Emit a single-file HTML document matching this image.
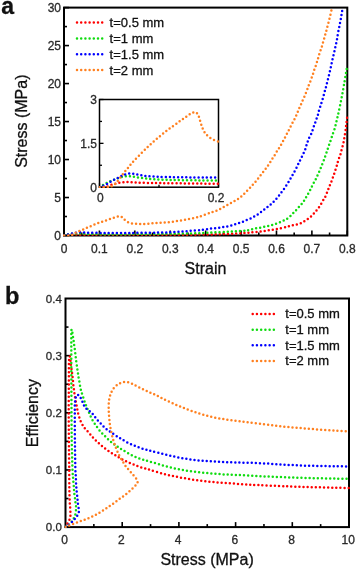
<!DOCTYPE html>
<html><head><meta charset="utf-8"><title>Stress-strain and efficiency</title>
<style>
html,body{margin:0;padding:0;background:#fff;}
body{width:357px;height:570px;overflow:hidden;}
svg{display:block;will-change:transform;}
#w{width:357px;height:570px;}
text{font-family:"Liberation Sans",sans-serif;fill:#111;stroke:#111;stroke-width:0.3px;}
.tk{fill:#2a2a2a;stroke:#2a2a2a;}
</style></head>
<body>
<div id="w">
<svg width="357" height="570" viewBox="0 0 357 570">
<g>
<rect width="357" height="570" fill="#fff"/>
<defs><clipPath id="ca"><rect x="63.00" y="6.60" width="285.30" height="229.90"/></clipPath><clipPath id="ci"><rect x="98.75" y="98.75" width="120.50" height="89.20"/></clipPath><clipPath id="cb"><rect x="64.50" y="297.50" width="285.50" height="230.60"/></clipPath></defs>
<line x1="64.00" y1="235.50" x2="69.00" y2="235.50" stroke="#000" stroke-width="1.60"/>
<line x1="64.00" y1="197.52" x2="69.00" y2="197.52" stroke="#000" stroke-width="1.60"/>
<line x1="64.00" y1="159.53" x2="69.00" y2="159.53" stroke="#000" stroke-width="1.60"/>
<line x1="64.00" y1="121.55" x2="69.00" y2="121.55" stroke="#000" stroke-width="1.60"/>
<line x1="64.00" y1="83.57" x2="69.00" y2="83.57" stroke="#000" stroke-width="1.60"/>
<line x1="64.00" y1="45.58" x2="69.00" y2="45.58" stroke="#000" stroke-width="1.60"/>
<line x1="64.00" y1="7.60" x2="69.00" y2="7.60" stroke="#000" stroke-width="1.60"/>
<line x1="64.00" y1="216.51" x2="67.00" y2="216.51" stroke="#000" stroke-width="1.60"/>
<line x1="64.00" y1="178.53" x2="67.00" y2="178.53" stroke="#000" stroke-width="1.60"/>
<line x1="64.00" y1="140.54" x2="67.00" y2="140.54" stroke="#000" stroke-width="1.60"/>
<line x1="64.00" y1="102.56" x2="67.00" y2="102.56" stroke="#000" stroke-width="1.60"/>
<line x1="64.00" y1="64.57" x2="67.00" y2="64.57" stroke="#000" stroke-width="1.60"/>
<line x1="64.00" y1="26.59" x2="67.00" y2="26.59" stroke="#000" stroke-width="1.60"/>
<line x1="64.00" y1="235.50" x2="64.00" y2="230.50" stroke="#000" stroke-width="1.60"/>
<line x1="99.41" y1="235.50" x2="99.41" y2="230.50" stroke="#000" stroke-width="1.60"/>
<line x1="134.82" y1="235.50" x2="134.82" y2="230.50" stroke="#000" stroke-width="1.60"/>
<line x1="170.24" y1="235.50" x2="170.24" y2="230.50" stroke="#000" stroke-width="1.60"/>
<line x1="205.65" y1="235.50" x2="205.65" y2="230.50" stroke="#000" stroke-width="1.60"/>
<line x1="241.06" y1="235.50" x2="241.06" y2="230.50" stroke="#000" stroke-width="1.60"/>
<line x1="276.48" y1="235.50" x2="276.48" y2="230.50" stroke="#000" stroke-width="1.60"/>
<line x1="311.89" y1="235.50" x2="311.89" y2="230.50" stroke="#000" stroke-width="1.60"/>
<line x1="347.30" y1="235.50" x2="347.30" y2="230.50" stroke="#000" stroke-width="1.60"/>
<line x1="81.71" y1="235.50" x2="81.71" y2="232.50" stroke="#000" stroke-width="1.60"/>
<line x1="117.12" y1="235.50" x2="117.12" y2="232.50" stroke="#000" stroke-width="1.60"/>
<line x1="152.53" y1="235.50" x2="152.53" y2="232.50" stroke="#000" stroke-width="1.60"/>
<line x1="187.94" y1="235.50" x2="187.94" y2="232.50" stroke="#000" stroke-width="1.60"/>
<line x1="223.36" y1="235.50" x2="223.36" y2="232.50" stroke="#000" stroke-width="1.60"/>
<line x1="258.77" y1="235.50" x2="258.77" y2="232.50" stroke="#000" stroke-width="1.60"/>
<line x1="294.18" y1="235.50" x2="294.18" y2="232.50" stroke="#000" stroke-width="1.60"/>
<line x1="329.59" y1="235.50" x2="329.59" y2="232.50" stroke="#000" stroke-width="1.60"/>
<rect x="64.00" y="7.60" width="283.30" height="227.90" fill="none" stroke="#000" stroke-width="2"/>
<path d="M64.00,235.50 C65.00,235.40 68.00,235.05 70.00,234.90 C72.00,234.75 74.00,234.63 76.00,234.60 C78.00,234.57 78.00,234.67 82.00,234.70 C86.00,234.73 88.67,234.78 100.00,234.80 C111.33,234.82 133.33,234.83 150.00,234.80 C166.67,234.77 187.50,234.73 200.00,234.60 C212.50,234.47 217.38,234.27 225.00,234.00 C232.62,233.73 240.92,233.30 245.70,233.00 C250.48,232.70 251.02,232.48 253.70,232.20 C256.38,231.92 259.10,231.65 261.80,231.30 C264.50,230.95 267.15,230.53 269.90,230.10 C272.65,229.67 275.50,229.23 278.30,228.70 C281.10,228.17 284.65,227.37 286.70,226.90 C288.75,226.43 289.32,226.23 290.60,225.90 C291.88,225.57 293.10,225.22 294.40,224.90 C295.70,224.58 297.08,224.40 298.40,224.00 C299.72,223.60 301.08,223.12 302.30,222.50 C303.52,221.88 304.53,221.07 305.70,220.30 C306.87,219.53 308.18,218.77 309.30,217.90 C310.42,217.03 311.42,216.10 312.40,215.10 C313.38,214.10 314.27,213.00 315.20,211.90 C316.13,210.80 317.12,209.67 318.00,208.50 C318.88,207.33 319.73,206.13 320.50,204.90 C321.27,203.67 321.90,202.27 322.60,201.10 C323.30,199.93 324.07,199.07 324.70,197.90 C325.33,196.73 325.85,195.42 326.40,194.10 C326.95,192.78 327.47,191.38 328.00,190.00 C328.53,188.62 329.08,187.08 329.60,185.80 C330.12,184.52 330.62,183.52 331.10,182.30 C331.58,181.08 332.03,179.78 332.50,178.50 C332.97,177.22 333.43,175.95 333.90,174.60 C334.37,173.25 334.83,171.82 335.30,170.40 C335.77,168.98 336.28,167.52 336.70,166.10 C337.12,164.68 337.38,163.30 337.80,161.90 C338.22,160.50 338.73,159.05 339.20,157.70 C339.67,156.35 340.20,155.13 340.60,153.80 C341.00,152.47 341.25,151.03 341.60,149.70 C341.95,148.37 342.35,147.15 342.70,145.80 C343.05,144.45 343.42,143.00 343.70,141.60 C343.98,140.20 344.17,138.80 344.40,137.40 C344.63,136.00 344.87,134.62 345.10,133.20 C345.33,131.78 345.62,130.32 345.80,128.90 C345.98,127.48 346.03,126.10 346.20,124.70 C346.37,123.30 346.62,121.90 346.80,120.50 C346.98,119.10 347.22,117.00 347.30,116.30" fill="none" stroke="#ff0000" stroke-width="2.50" stroke-linecap="round" stroke-dasharray="0 4.10" clip-path="url(#ca)"/>
<path d="M64.00,235.50 C64.67,235.33 66.67,234.80 68.00,234.50 C69.33,234.20 70.67,233.88 72.00,233.70 C73.33,233.52 74.67,233.42 76.00,233.40 C77.33,233.38 77.67,233.50 80.00,233.60 C82.33,233.70 85.00,233.90 90.00,234.00 C95.00,234.10 100.00,234.20 110.00,234.20 C120.00,234.20 138.33,234.10 150.00,234.00 C161.67,233.90 171.38,233.75 180.00,233.60 C188.62,233.45 195.92,233.30 201.70,233.10 C207.48,232.90 210.43,232.62 214.70,232.40 C218.97,232.18 223.80,231.98 227.30,231.80 C230.80,231.62 232.63,231.48 235.70,231.30 C238.77,231.12 243.45,230.93 245.70,230.70 C247.95,230.47 247.97,230.18 249.20,229.90 C250.43,229.62 251.82,229.28 253.10,229.00 C254.38,228.72 255.57,228.45 256.90,228.20 C258.23,227.95 259.70,227.78 261.10,227.50 C262.50,227.22 263.97,226.78 265.30,226.50 C266.63,226.22 267.82,226.10 269.10,225.80 C270.38,225.50 271.70,225.10 273.00,224.70 C274.30,224.30 275.58,223.87 276.90,223.40 C278.22,222.93 279.63,222.43 280.90,221.90 C282.17,221.37 283.37,220.80 284.50,220.20 C285.63,219.60 286.60,219.08 287.70,218.30 C288.80,217.52 290.03,216.52 291.10,215.50 C292.17,214.48 293.12,213.25 294.10,212.20 C295.08,211.15 296.00,210.28 297.00,209.20 C298.00,208.12 299.12,206.82 300.10,205.70 C301.08,204.58 302.07,203.62 302.90,202.50 C303.73,201.38 304.40,200.17 305.10,199.00 C305.80,197.83 306.40,196.72 307.10,195.50 C307.80,194.28 308.62,192.95 309.30,191.70 C309.98,190.45 310.62,189.22 311.20,188.00 C311.78,186.78 312.18,185.58 312.80,184.40 C313.42,183.22 314.25,182.12 314.90,180.90 C315.55,179.68 316.12,178.35 316.70,177.10 C317.28,175.85 317.83,174.65 318.40,173.40 C318.97,172.15 319.58,170.85 320.10,169.60 C320.62,168.35 320.97,167.23 321.50,165.90 C322.03,164.57 322.77,162.97 323.30,161.60 C323.83,160.23 324.23,159.00 324.70,157.70 C325.17,156.40 325.63,155.15 326.10,153.80 C326.57,152.45 327.03,151.00 327.50,149.60 C327.97,148.20 328.42,146.80 328.90,145.40 C329.38,144.00 329.92,142.62 330.40,141.20 C330.88,139.78 331.33,138.32 331.80,136.90 C332.27,135.48 332.73,134.03 333.20,132.70 C333.67,131.37 334.18,130.23 334.60,128.90 C335.02,127.57 335.35,126.10 335.70,124.70 C336.05,123.30 336.38,121.83 336.70,120.50 C337.02,119.17 337.30,117.98 337.60,116.70 C337.90,115.42 337.85,115.85 338.50,112.80 C339.15,109.75 340.53,103.37 341.50,98.40 C342.47,93.43 343.45,87.82 344.30,83.00 C345.15,78.18 346.10,72.17 346.60,69.50 C347.10,66.83 347.18,67.42 347.30,67.00" fill="none" stroke="#10dc10" stroke-width="2.50" stroke-linecap="round" stroke-dasharray="0 4.10" clip-path="url(#ca)"/>
<path d="M64.00,235.50 C64.67,235.35 66.67,234.92 68.00,234.60 C69.33,234.28 70.67,233.92 72.00,233.60 C73.33,233.28 74.67,232.92 76.00,232.70 C77.33,232.48 78.67,232.35 80.00,232.30 C81.33,232.25 82.33,232.33 84.00,232.40 C85.67,232.47 87.33,232.62 90.00,232.70 C92.67,232.78 96.67,232.85 100.00,232.90 C103.33,232.95 105.00,233.00 110.00,233.00 C115.00,233.00 123.10,232.95 130.00,232.90 C136.90,232.85 145.73,232.77 151.40,232.70 C157.07,232.63 160.38,232.62 164.00,232.50 C167.62,232.38 170.18,232.15 173.10,232.00 C176.02,231.85 178.70,231.78 181.50,231.60 C184.30,231.42 187.10,231.12 189.90,230.90 C192.70,230.68 196.33,230.45 198.30,230.30 C200.27,230.15 200.37,230.17 201.70,230.00 C203.03,229.83 204.83,229.53 206.30,229.30 C207.77,229.07 209.10,228.78 210.50,228.60 C211.90,228.42 213.30,228.33 214.70,228.20 C216.10,228.07 217.50,227.98 218.90,227.80 C220.30,227.62 221.70,227.33 223.10,227.10 C224.50,226.87 225.90,226.68 227.30,226.40 C228.70,226.12 230.22,225.75 231.50,225.40 C232.78,225.05 233.77,224.70 235.00,224.30 C236.23,223.90 237.67,223.40 238.90,223.00 C240.13,222.60 241.27,222.32 242.40,221.90 C243.53,221.48 244.45,221.02 245.70,220.50 C246.95,219.98 248.62,219.38 249.90,218.80 C251.18,218.22 252.23,217.63 253.40,217.00 C254.57,216.37 255.78,215.70 256.90,215.00 C258.02,214.30 259.05,213.57 260.10,212.80 C261.15,212.03 262.17,211.20 263.20,210.40 C264.23,209.60 265.25,208.82 266.30,208.00 C267.35,207.18 268.45,206.38 269.50,205.50 C270.55,204.62 271.60,203.68 272.60,202.70 C273.60,201.72 274.57,200.60 275.50,199.60 C276.43,198.60 277.30,197.82 278.20,196.70 C279.10,195.58 280.03,194.05 280.90,192.90 C281.77,191.75 282.60,190.88 283.40,189.80 C284.20,188.72 284.95,187.52 285.70,186.40 C286.45,185.28 287.20,184.22 287.90,183.10 C288.60,181.98 289.22,180.88 289.90,179.70 C290.58,178.52 291.32,177.22 292.00,176.00 C292.68,174.78 293.33,173.60 294.00,172.40 C294.67,171.20 295.37,170.03 296.00,168.80 C296.63,167.57 297.22,166.22 297.80,165.00 C298.38,163.78 298.92,162.68 299.50,161.50 C300.08,160.32 300.70,159.12 301.30,157.90 C301.90,156.68 302.50,155.45 303.10,154.20 C303.70,152.95 304.40,151.70 304.90,150.40 C305.40,149.10 305.68,147.72 306.10,146.40 C306.52,145.08 306.95,143.82 307.40,142.50 C307.85,141.18 308.18,139.90 308.80,138.50 C309.42,137.10 310.48,135.45 311.10,134.10 C311.72,132.75 312.03,131.73 312.50,130.40 C312.97,129.07 313.43,127.43 313.90,126.10 C314.37,124.77 314.83,123.68 315.30,122.40 C315.77,121.12 316.23,119.77 316.70,118.40 C317.17,117.03 317.70,115.60 318.10,114.20 C318.50,112.80 318.70,111.38 319.10,110.00 C319.50,108.62 320.07,107.23 320.50,105.90 C320.93,104.57 321.28,103.33 321.70,102.00 C322.12,100.67 322.60,99.28 323.00,97.90 C323.40,96.52 323.73,95.07 324.10,93.70 C324.47,92.33 324.83,91.02 325.20,89.70 C325.57,88.38 325.95,87.13 326.30,85.80 C326.65,84.47 326.95,83.10 327.30,81.70 C327.65,80.30 328.05,78.78 328.40,77.40 C328.75,76.02 329.08,74.73 329.40,73.40 C329.72,72.07 330.00,70.72 330.30,69.40 C330.60,68.08 330.92,66.82 331.20,65.50 C331.48,64.18 331.70,62.88 332.00,61.50 C332.30,60.12 332.67,58.60 333.00,57.20 C333.33,55.80 333.68,54.47 334.00,53.10 C334.32,51.73 334.60,50.37 334.90,49.00 C335.20,47.63 335.50,46.23 335.80,44.90 C336.10,43.57 336.43,42.35 336.70,41.00 C336.97,39.65 337.17,38.22 337.40,36.80 C337.63,35.38 337.83,33.90 338.10,32.50 C338.37,31.10 338.72,29.78 339.00,28.40 C339.28,27.02 339.53,25.58 339.80,24.20 C340.07,22.82 340.35,21.47 340.60,20.10 C340.85,18.73 341.07,17.37 341.30,16.00 C341.53,14.63 341.77,13.25 342.00,11.90 C342.23,10.55 342.58,8.57 342.70,7.90" fill="none" stroke="#0000ff" stroke-width="2.50" stroke-linecap="round" stroke-dasharray="0 4.10" clip-path="url(#ca)"/>
<path d="M64.00,235.50 C65.00,235.47 68.50,235.47 70.00,235.30 C71.50,235.13 72.00,234.95 73.00,234.50 C74.00,234.05 75.00,233.15 76.00,232.60 C77.00,232.05 77.83,231.72 79.00,231.20 C80.17,230.68 81.72,230.07 83.00,229.50 C84.28,228.93 85.45,228.35 86.70,227.80 C87.95,227.25 89.20,226.75 90.50,226.20 C91.80,225.65 93.18,225.03 94.50,224.50 C95.82,223.97 97.07,223.48 98.40,223.00 C99.73,222.52 101.13,222.07 102.50,221.60 C103.87,221.13 105.22,220.67 106.60,220.20 C107.98,219.73 109.45,219.25 110.80,218.80 C112.15,218.35 113.42,217.90 114.70,217.50 C115.98,217.10 117.37,216.48 118.50,216.40 C119.63,216.32 120.65,216.63 121.50,217.00 C122.35,217.37 122.93,218.00 123.60,218.60 C124.27,219.20 124.63,219.93 125.50,220.60 C126.37,221.27 127.60,222.12 128.80,222.60 C130.00,223.08 131.35,223.28 132.70,223.50 C134.05,223.72 135.50,223.82 136.90,223.90 C138.30,223.98 139.70,223.98 141.10,224.00 C142.50,224.02 143.82,224.07 145.30,224.00 C146.78,223.93 148.52,223.73 150.00,223.60 C151.48,223.47 152.80,223.32 154.20,223.20 C155.60,223.08 157.00,223.00 158.40,222.90 C159.80,222.80 161.20,222.68 162.60,222.60 C164.00,222.52 165.40,222.52 166.80,222.40 C168.20,222.28 169.60,222.07 171.00,221.90 C172.40,221.73 173.80,221.60 175.20,221.40 C176.60,221.20 178.00,220.92 179.40,220.70 C180.80,220.48 182.25,220.33 183.60,220.10 C184.95,219.87 186.15,219.55 187.50,219.30 C188.85,219.05 190.30,218.88 191.70,218.60 C193.10,218.32 194.63,217.92 195.90,217.60 C197.17,217.28 198.20,217.03 199.30,216.70 C200.40,216.37 201.10,216.10 202.50,215.60 C203.90,215.10 206.25,214.22 207.70,213.70 C209.15,213.18 210.00,212.92 211.20,212.50 C212.40,212.08 213.68,211.65 214.90,211.20 C216.12,210.75 217.37,210.32 218.50,209.80 C219.63,209.28 220.58,208.70 221.70,208.10 C222.82,207.50 224.03,206.83 225.20,206.20 C226.37,205.57 227.53,204.95 228.70,204.30 C229.87,203.65 231.03,202.95 232.20,202.30 C233.37,201.65 234.58,201.07 235.70,200.40 C236.82,199.73 237.88,199.03 238.90,198.30 C239.92,197.57 240.83,196.85 241.80,196.00 C242.77,195.15 243.70,194.20 244.70,193.20 C245.70,192.20 246.77,191.05 247.80,190.00 C248.83,188.95 249.92,187.95 250.90,186.90 C251.88,185.85 252.77,184.75 253.70,183.70 C254.63,182.65 255.62,181.67 256.50,180.60 C257.38,179.53 258.17,178.37 259.00,177.30 C259.83,176.23 260.65,175.28 261.50,174.20 C262.35,173.12 263.25,171.90 264.10,170.80 C264.95,169.70 265.80,168.70 266.60,167.60 C267.40,166.50 268.17,165.30 268.90,164.20 C269.63,163.10 270.32,162.08 271.00,161.00 C271.68,159.92 272.32,158.78 273.00,157.70 C273.68,156.62 274.43,155.58 275.10,154.50 C275.77,153.42 276.32,152.32 277.00,151.20 C277.68,150.08 278.47,148.98 279.20,147.80 C279.93,146.62 280.68,145.35 281.40,144.10 C282.12,142.85 282.80,141.60 283.50,140.30 C284.20,139.00 284.90,137.65 285.60,136.30 C286.30,134.95 287.00,133.55 287.70,132.20 C288.40,130.85 289.12,129.53 289.80,128.20 C290.48,126.87 291.10,125.55 291.80,124.20 C292.50,122.85 293.33,121.38 294.00,120.10 C294.67,118.82 295.23,117.72 295.80,116.50 C296.37,115.28 296.87,114.10 297.40,112.80 C297.93,111.50 298.43,110.03 299.00,108.70 C299.57,107.37 300.23,106.08 300.80,104.80 C301.37,103.52 301.85,102.25 302.40,101.00 C302.95,99.75 303.55,98.57 304.10,97.30 C304.65,96.03 305.17,94.72 305.70,93.40 C306.23,92.08 306.80,90.73 307.30,89.40 C307.80,88.07 308.20,86.72 308.70,85.40 C309.20,84.08 309.78,82.83 310.30,81.50 C310.82,80.17 311.32,78.75 311.80,77.40 C312.28,76.05 312.77,74.73 313.20,73.40 C313.63,72.07 313.95,70.73 314.40,69.40 C314.85,68.07 315.45,66.72 315.90,65.40 C316.35,64.08 316.70,62.82 317.10,61.50 C317.50,60.18 317.90,58.87 318.30,57.50 C318.70,56.13 319.07,54.65 319.50,53.30 C319.93,51.95 320.47,50.65 320.90,49.40 C321.33,48.15 321.72,47.08 322.10,45.80 C322.48,44.52 322.82,43.03 323.20,41.70 C323.58,40.37 324.02,39.13 324.40,37.80 C324.78,36.47 325.13,35.03 325.50,33.70 C325.87,32.37 326.25,31.12 326.60,29.80 C326.95,28.48 327.25,27.13 327.60,25.80 C327.95,24.47 328.35,23.13 328.70,21.80 C329.05,20.47 329.37,19.15 329.70,17.80 C330.03,16.45 330.38,15.07 330.70,13.70 C331.02,12.33 331.38,10.62 331.60,9.60 C331.82,8.58 331.93,7.93 332.00,7.60" fill="none" stroke="#ff8020" stroke-width="2.50" stroke-linecap="round" stroke-dasharray="0 4.10" clip-path="url(#ca)"/>
<text x="61.00" y="239.80" font-size="12.00" text-anchor="end" font-weight="normal" class="tk">0</text>
<text x="61.00" y="201.82" font-size="12.00" text-anchor="end" font-weight="normal" class="tk">5</text>
<text x="61.00" y="163.83" font-size="12.00" text-anchor="end" font-weight="normal" class="tk">10</text>
<text x="61.00" y="125.85" font-size="12.00" text-anchor="end" font-weight="normal" class="tk">15</text>
<text x="61.00" y="87.87" font-size="12.00" text-anchor="end" font-weight="normal" class="tk">20</text>
<text x="61.00" y="49.88" font-size="12.00" text-anchor="end" font-weight="normal" class="tk">25</text>
<text x="61.00" y="11.90" font-size="12.00" text-anchor="end" font-weight="normal" class="tk">30</text>
<text x="64.00" y="252.60" font-size="12.00" text-anchor="middle" font-weight="normal" class="tk">0</text>
<text x="99.41" y="252.60" font-size="12.00" text-anchor="middle" font-weight="normal" class="tk">0.1</text>
<text x="134.82" y="252.60" font-size="12.00" text-anchor="middle" font-weight="normal" class="tk">0.2</text>
<text x="170.24" y="252.60" font-size="12.00" text-anchor="middle" font-weight="normal" class="tk">0.3</text>
<text x="205.65" y="252.60" font-size="12.00" text-anchor="middle" font-weight="normal" class="tk">0.4</text>
<text x="241.06" y="252.60" font-size="12.00" text-anchor="middle" font-weight="normal" class="tk">0.5</text>
<text x="276.48" y="252.60" font-size="12.00" text-anchor="middle" font-weight="normal" class="tk">0.6</text>
<text x="311.89" y="252.60" font-size="12.00" text-anchor="middle" font-weight="normal" class="tk">0.7</text>
<text x="347.30" y="252.60" font-size="12.00" text-anchor="middle" font-weight="normal" class="tk">0.8</text>
<line x1="99.50" y1="187.20" x2="103.50" y2="187.20" stroke="#000" stroke-width="1.30"/>
<line x1="99.50" y1="143.35" x2="103.50" y2="143.35" stroke="#000" stroke-width="1.30"/>
<line x1="99.50" y1="99.50" x2="103.50" y2="99.50" stroke="#000" stroke-width="1.30"/>
<line x1="99.50" y1="165.27" x2="102.00" y2="165.27" stroke="#000" stroke-width="1.30"/>
<line x1="99.50" y1="121.42" x2="102.00" y2="121.42" stroke="#000" stroke-width="1.30"/>
<line x1="99.50" y1="187.20" x2="99.50" y2="183.20" stroke="#000" stroke-width="1.30"/>
<line x1="218.50" y1="187.20" x2="218.50" y2="183.20" stroke="#000" stroke-width="1.30"/>
<line x1="159.00" y1="187.20" x2="159.00" y2="184.70" stroke="#000" stroke-width="1.30"/>
<rect x="99.50" y="99.50" width="119.00" height="87.70" fill="none" stroke="#000" stroke-width="1.5"/>
<path d="M99.50,187.20 C100.25,187.17 102.60,187.13 104.00,187.00 C105.40,186.87 106.57,186.80 107.90,186.40 C109.23,186.00 110.67,185.08 112.00,184.60 C113.33,184.12 114.50,183.83 115.90,183.50 C117.30,183.17 118.93,182.83 120.40,182.60 C121.87,182.37 123.30,182.20 124.70,182.10 C126.10,182.00 127.42,181.97 128.80,182.00 C130.18,182.03 131.63,182.20 133.00,182.30 C134.37,182.40 135.57,182.52 137.00,182.60 C138.43,182.68 139.43,182.73 141.60,182.80 C143.77,182.87 146.93,182.95 150.00,183.00 C153.07,183.05 155.67,183.05 160.00,183.10 C164.33,183.15 169.33,183.22 176.00,183.30 C182.67,183.38 192.92,183.53 200.00,183.60 C207.08,183.67 215.42,183.68 218.50,183.70" fill="none" stroke="#ff0000" stroke-width="2.50" stroke-linecap="round" stroke-dasharray="0 4.10" clip-path="url(#ci)"/>
<path d="M99.50,187.20 C100.08,186.83 101.75,185.72 103.00,185.00 C104.25,184.28 105.68,183.55 107.00,182.90 C108.32,182.25 109.57,181.70 110.90,181.10 C112.23,180.50 113.65,179.85 115.00,179.30 C116.35,178.75 117.63,178.23 119.00,177.80 C120.37,177.37 121.80,177.00 123.20,176.70 C124.60,176.40 126.00,176.05 127.40,176.00 C128.80,175.95 130.23,176.22 131.60,176.40 C132.97,176.58 134.20,176.87 135.60,177.10 C137.00,177.33 138.52,177.58 140.00,177.80 C141.48,178.02 143.07,178.23 144.50,178.40 C145.93,178.57 147.20,178.68 148.60,178.80 C150.00,178.92 151.50,179.00 152.90,179.10 C154.30,179.20 155.57,179.32 157.00,179.40 C158.43,179.48 160.02,179.53 161.50,179.60 C162.98,179.67 164.48,179.75 165.90,179.80 C167.32,179.85 167.90,179.85 170.00,179.90 C172.10,179.95 173.50,180.02 178.50,180.10 C183.50,180.18 193.33,180.33 200.00,180.40 C206.67,180.47 215.42,180.48 218.50,180.50" fill="none" stroke="#10dc10" stroke-width="2.50" stroke-linecap="round" stroke-dasharray="0 4.10" clip-path="url(#ci)"/>
<path d="M99.50,187.20 C100.08,186.98 101.75,186.43 103.00,185.90 C104.25,185.37 105.75,184.68 107.00,184.00 C108.25,183.32 109.23,182.53 110.50,181.80 C111.77,181.07 113.28,180.30 114.60,179.60 C115.92,178.90 117.15,178.25 118.40,177.60 C119.65,176.95 120.80,176.27 122.10,175.70 C123.40,175.13 124.80,174.57 126.20,174.20 C127.60,173.83 129.07,173.53 130.50,173.50 C131.93,173.47 133.38,173.78 134.80,174.00 C136.22,174.22 137.60,174.53 139.00,174.80 C140.40,175.07 141.80,175.38 143.20,175.60 C144.60,175.82 146.00,175.97 147.40,176.10 C148.80,176.23 150.20,176.30 151.60,176.40 C153.00,176.50 154.37,176.62 155.80,176.70 C157.23,176.78 158.03,176.83 160.20,176.90 C162.37,176.97 165.90,177.05 168.80,177.10 C171.70,177.15 174.07,177.15 177.60,177.20 C181.13,177.25 185.43,177.35 190.00,177.40 C194.57,177.45 200.25,177.47 205.00,177.50 C209.75,177.53 216.25,177.58 218.50,177.60" fill="none" stroke="#0000ff" stroke-width="2.50" stroke-linecap="round" stroke-dasharray="0 4.10" clip-path="url(#ci)"/>
<path d="M99.50,187.20 C100.58,187.17 104.25,187.08 106.00,187.00 C107.75,186.92 108.92,186.90 110.00,186.70 C111.08,186.50 111.60,186.32 112.50,185.80 C113.40,185.28 114.45,184.50 115.40,183.60 C116.35,182.70 116.90,182.03 118.20,180.40 C119.50,178.77 121.48,176.00 123.20,173.80 C124.92,171.60 126.68,169.40 128.50,167.20 C130.32,165.00 131.92,162.97 134.10,160.60 C136.28,158.23 139.28,155.30 141.60,153.00 C143.92,150.70 145.85,148.83 148.00,146.80 C150.15,144.77 152.35,142.70 154.50,140.80 C156.65,138.90 158.75,137.17 160.90,135.40 C163.05,133.63 165.25,131.83 167.40,130.20 C169.55,128.57 171.70,127.13 173.80,125.60 C175.90,124.07 178.37,122.18 180.00,121.00 C181.63,119.82 182.42,119.32 183.60,118.50 C184.78,117.68 185.95,116.88 187.10,116.10 C188.25,115.32 189.43,114.43 190.50,113.80 C191.57,113.17 192.70,112.57 193.50,112.30 C194.30,112.03 194.62,111.95 195.30,112.20 C195.98,112.45 196.95,112.90 197.60,113.80 C198.25,114.70 198.72,116.20 199.20,117.60 C199.68,119.00 200.05,120.72 200.50,122.20 C200.95,123.68 201.38,125.10 201.90,126.50 C202.42,127.90 202.95,129.35 203.60,130.60 C204.25,131.85 204.92,132.95 205.80,134.00 C206.68,135.05 207.80,136.05 208.90,136.90 C210.00,137.75 211.22,138.45 212.40,139.10 C213.58,139.75 214.98,140.38 216.00,140.80 C217.02,141.22 218.08,141.47 218.50,141.60" fill="none" stroke="#ff8020" stroke-width="2.50" stroke-linecap="round" stroke-dasharray="0 4.10" clip-path="url(#ci)"/>
<text x="97.00" y="103.80" font-size="12.00" text-anchor="end" font-weight="normal" class="tk">3</text>
<text x="97.00" y="147.65" font-size="12.00" text-anchor="end" font-weight="normal" class="tk">1.5</text>
<text x="97.00" y="191.50" font-size="12.00" text-anchor="end" font-weight="normal" class="tk">0</text>
<text x="100.30" y="201.60" font-size="12.00" text-anchor="middle" font-weight="normal" class="tk">0</text>
<text x="216.00" y="201.80" font-size="12.00" text-anchor="middle" font-weight="normal" class="tk">0.2</text>
<path d="M77.0,22.60 H102.3" fill="none" stroke="#ff0000" stroke-width="2.50" stroke-linecap="round" stroke-dasharray="0 4.2"/>
<text x="109.60" y="27.20" font-size="13.00" text-anchor="start" font-weight="normal">t=0.5 mm</text>
<path d="M77.0,38.50 H102.3" fill="none" stroke="#10dc10" stroke-width="2.50" stroke-linecap="round" stroke-dasharray="0 4.2"/>
<text x="109.60" y="43.10" font-size="13.00" text-anchor="start" font-weight="normal">t=1 mm</text>
<path d="M77.0,54.30 H102.3" fill="none" stroke="#0000ff" stroke-width="2.50" stroke-linecap="round" stroke-dasharray="0 4.2"/>
<text x="109.60" y="58.90" font-size="13.00" text-anchor="start" font-weight="normal">t=1.5 mm</text>
<path d="M77.0,70.10 H102.3" fill="none" stroke="#ff8020" stroke-width="2.50" stroke-linecap="round" stroke-dasharray="0 4.2"/>
<text x="109.60" y="74.70" font-size="13.00" text-anchor="start" font-weight="normal">t=2 mm</text>
<text x="205.50" y="273.60" font-size="16.00" text-anchor="middle" font-weight="normal">Strain</text>
<text x="0.00" y="0.00" font-size="16.00" text-anchor="middle" font-weight="normal" transform="translate(26.6,121.2) rotate(-90)">Stress (MPa)</text>
<text x="1.20" y="13.80" font-size="23.00" text-anchor="start" font-weight="bold">a</text>
<line x1="65.50" y1="498.53" x2="68.50" y2="498.53" stroke="#000" stroke-width="1.60"/>
<line x1="65.50" y1="469.95" x2="70.50" y2="469.95" stroke="#000" stroke-width="1.60"/>
<line x1="65.50" y1="441.38" x2="68.50" y2="441.38" stroke="#000" stroke-width="1.60"/>
<line x1="65.50" y1="412.80" x2="70.50" y2="412.80" stroke="#000" stroke-width="1.60"/>
<line x1="65.50" y1="384.23" x2="68.50" y2="384.23" stroke="#000" stroke-width="1.60"/>
<line x1="65.50" y1="355.65" x2="70.50" y2="355.65" stroke="#000" stroke-width="1.60"/>
<line x1="65.50" y1="327.07" x2="68.50" y2="327.07" stroke="#000" stroke-width="1.60"/>
<line x1="93.85" y1="527.10" x2="93.85" y2="524.10" stroke="#000" stroke-width="1.60"/>
<line x1="122.20" y1="527.10" x2="122.20" y2="522.10" stroke="#000" stroke-width="1.60"/>
<line x1="150.55" y1="527.10" x2="150.55" y2="524.10" stroke="#000" stroke-width="1.60"/>
<line x1="178.90" y1="527.10" x2="178.90" y2="522.10" stroke="#000" stroke-width="1.60"/>
<line x1="207.25" y1="527.10" x2="207.25" y2="524.10" stroke="#000" stroke-width="1.60"/>
<line x1="235.60" y1="527.10" x2="235.60" y2="522.10" stroke="#000" stroke-width="1.60"/>
<line x1="263.95" y1="527.10" x2="263.95" y2="524.10" stroke="#000" stroke-width="1.60"/>
<line x1="292.30" y1="527.10" x2="292.30" y2="522.10" stroke="#000" stroke-width="1.60"/>
<line x1="320.65" y1="527.10" x2="320.65" y2="524.10" stroke="#000" stroke-width="1.60"/>
<rect x="65.50" y="298.50" width="283.50" height="228.60" fill="none" stroke="#000" stroke-width="2"/>
<path d="M65.50,527.00 C65.67,526.67 66.08,525.75 66.50,525.00 C66.92,524.25 67.48,523.42 68.00,522.50 C68.52,521.58 69.20,520.58 69.60,519.50 C70.00,518.42 70.27,517.25 70.40,516.00 C70.53,514.75 70.45,513.50 70.40,512.00 C70.35,510.50 70.20,508.40 70.10,507.00 C70.00,505.60 69.90,505.60 69.80,503.60 C69.70,501.60 69.58,498.10 69.50,495.00 C69.42,491.90 69.35,489.17 69.30,485.00 C69.25,480.83 69.25,475.83 69.20,470.00 C69.15,464.17 69.07,456.67 69.00,450.00 C68.93,443.33 68.85,436.67 68.80,430.00 C68.75,423.33 68.70,416.67 68.70,410.00 C68.70,403.33 68.77,395.83 68.80,390.00 C68.83,384.17 68.88,379.17 68.90,375.00 C68.92,370.83 68.87,367.58 68.90,365.00 C68.93,362.42 68.97,360.93 69.10,359.50 C69.23,358.07 69.48,356.32 69.70,356.40 C69.92,356.48 70.20,358.60 70.40,360.00 C70.60,361.40 70.72,363.30 70.90,364.80 C71.08,366.30 71.30,367.62 71.50,369.00 C71.70,370.38 71.92,371.72 72.10,373.10 C72.28,374.48 72.45,375.93 72.60,377.30 C72.75,378.67 72.87,379.90 73.00,381.30 C73.13,382.70 73.23,384.27 73.40,385.70 C73.57,387.13 73.82,388.53 74.00,389.90 C74.18,391.27 74.32,392.58 74.50,393.90 C74.68,395.22 74.87,396.45 75.10,397.80 C75.33,399.15 75.62,400.55 75.90,402.00 C76.18,403.45 76.53,405.12 76.80,406.50 C77.07,407.88 77.23,408.95 77.50,410.30 C77.77,411.65 78.02,413.18 78.40,414.60 C78.78,416.02 79.32,417.43 79.80,418.80 C80.28,420.17 80.72,421.58 81.30,422.80 C81.88,424.02 82.60,425.02 83.30,426.10 C84.00,427.18 84.67,428.30 85.50,429.30 C86.33,430.30 87.43,431.17 88.30,432.10 C89.17,433.03 89.93,434.00 90.70,434.90 C91.47,435.80 92.07,436.60 92.90,437.50 C93.73,438.40 94.72,439.35 95.70,440.30 C96.68,441.25 97.77,442.27 98.80,443.20 C99.83,444.13 100.85,445.02 101.90,445.90 C102.95,446.78 103.98,447.65 105.10,448.50 C106.22,449.35 107.43,450.20 108.60,451.00 C109.77,451.80 110.87,452.53 112.10,453.30 C113.33,454.07 114.48,454.68 116.00,455.60 C117.52,456.52 119.18,457.68 121.20,458.80 C123.22,459.92 125.82,461.25 128.10,462.30 C130.38,463.35 132.62,464.22 134.90,465.10 C137.18,465.98 139.28,466.80 141.80,467.60 C144.32,468.40 146.07,468.78 150.00,469.90 C153.93,471.02 160.27,473.02 165.40,474.30 C170.53,475.58 175.67,476.63 180.80,477.60 C185.93,478.57 191.07,479.38 196.20,480.10 C201.33,480.82 206.47,481.40 211.60,481.90 C216.73,482.40 221.87,482.72 227.00,483.10 C232.13,483.48 237.25,483.87 242.40,484.20 C247.55,484.53 251.87,484.80 257.90,485.10 C263.93,485.40 272.77,485.75 278.60,486.00 C284.43,486.25 288.15,486.42 292.90,486.60 C297.65,486.78 302.35,486.97 307.10,487.10 C311.85,487.23 316.63,487.30 321.40,487.40 C326.17,487.50 331.10,487.60 335.70,487.70 C340.30,487.80 346.78,487.95 349.00,488.00" fill="none" stroke="#ff0000" stroke-width="2.50" stroke-linecap="round" stroke-dasharray="0 4.10" clip-path="url(#cb)"/>
<path d="M65.50,527.00 C66.03,526.65 67.70,525.72 68.70,524.90 C69.70,524.08 70.65,523.22 71.50,522.10 C72.35,520.98 73.15,519.50 73.80,518.20 C74.45,516.90 75.03,515.65 75.40,514.30 C75.77,512.95 75.90,511.50 76.00,510.10 C76.10,508.70 76.10,507.27 76.00,505.90 C75.90,504.53 75.58,503.30 75.40,501.90 C75.22,500.50 75.08,498.90 74.90,497.50 C74.72,496.10 74.45,494.82 74.30,493.50 C74.15,492.18 74.10,491.00 74.00,489.60 C73.90,488.20 73.82,486.50 73.70,485.10 C73.58,483.70 73.42,482.60 73.30,481.20 C73.18,479.80 73.12,478.20 73.00,476.70 C72.88,475.20 72.73,474.98 72.60,472.20 C72.47,469.42 72.33,464.53 72.20,460.00 C72.07,455.47 71.90,450.00 71.80,445.00 C71.70,440.00 71.65,435.83 71.60,430.00 C71.55,424.17 71.53,416.67 71.50,410.00 C71.47,403.33 71.43,396.67 71.40,390.00 C71.37,383.33 71.32,376.67 71.30,370.00 C71.28,363.33 71.30,355.67 71.30,350.00 C71.30,344.33 71.27,339.40 71.30,336.00 C71.33,332.60 71.35,330.35 71.50,329.60 C71.65,328.85 71.95,330.30 72.20,331.50 C72.45,332.70 72.77,335.30 73.00,336.80 C73.23,338.30 73.42,339.18 73.60,340.50 C73.78,341.82 73.92,343.33 74.10,344.70 C74.28,346.07 74.52,347.37 74.70,348.70 C74.88,350.03 75.03,351.33 75.20,352.70 C75.37,354.07 75.53,355.50 75.70,356.90 C75.87,358.30 76.02,359.72 76.20,361.10 C76.38,362.48 76.60,363.80 76.80,365.20 C77.00,366.60 77.20,368.12 77.40,369.50 C77.60,370.88 77.80,372.13 78.00,373.50 C78.20,374.87 78.37,376.32 78.60,377.70 C78.83,379.08 79.15,380.40 79.40,381.80 C79.65,383.20 79.83,384.68 80.10,386.10 C80.37,387.52 80.67,388.98 81.00,390.30 C81.33,391.62 81.70,392.73 82.10,394.00 C82.50,395.27 82.95,396.55 83.40,397.90 C83.85,399.25 84.32,400.75 84.80,402.10 C85.28,403.45 85.80,404.72 86.30,406.00 C86.80,407.28 87.30,408.57 87.80,409.80 C88.30,411.03 88.75,412.13 89.30,413.40 C89.85,414.67 90.45,416.07 91.10,417.40 C91.75,418.73 92.43,420.12 93.20,421.40 C93.97,422.68 94.88,423.90 95.70,425.10 C96.52,426.30 97.23,427.45 98.10,428.60 C98.97,429.75 99.97,430.95 100.90,432.00 C101.83,433.05 102.77,433.95 103.70,434.90 C104.63,435.85 105.57,436.78 106.50,437.70 C107.43,438.62 108.30,439.50 109.30,440.40 C110.30,441.30 111.40,442.23 112.50,443.10 C113.60,443.97 114.73,444.78 115.90,445.60 C117.07,446.42 118.27,447.22 119.50,448.00 C120.73,448.78 121.68,449.33 123.30,450.30 C124.92,451.27 127.07,452.65 129.20,453.80 C131.33,454.95 133.82,456.22 136.10,457.20 C138.38,458.18 140.58,458.97 142.90,459.70 C145.22,460.43 146.77,460.67 150.00,461.60 C153.23,462.53 158.18,464.17 162.30,465.30 C166.42,466.43 170.58,467.50 174.70,468.40 C178.82,469.30 182.90,470.05 187.00,470.70 C191.10,471.35 195.20,471.83 199.30,472.30 C203.40,472.77 207.48,473.15 211.60,473.50 C215.72,473.85 219.88,474.17 224.00,474.40 C228.12,474.63 231.97,474.68 236.30,474.90 C240.63,475.12 245.33,475.45 250.00,475.70 C254.67,475.95 259.53,476.18 264.30,476.40 C269.07,476.62 273.83,476.80 278.60,477.00 C283.37,477.20 288.15,477.43 292.90,477.60 C297.65,477.77 302.35,477.88 307.10,478.00 C311.85,478.12 316.63,478.20 321.40,478.30 C326.17,478.40 331.10,478.50 335.70,478.60 C340.30,478.70 346.78,478.85 349.00,478.90" fill="none" stroke="#10dc10" stroke-width="2.50" stroke-linecap="round" stroke-dasharray="0 4.10" clip-path="url(#cb)"/>
<path d="M65.50,527.00 C65.75,526.77 66.43,526.00 67.00,525.60 C67.57,525.20 68.08,525.18 68.90,524.60 C69.72,524.02 70.97,522.98 71.90,522.10 C72.83,521.22 73.63,520.33 74.50,519.30 C75.37,518.27 76.38,517.08 77.10,515.90 C77.82,514.72 78.55,513.53 78.80,512.20 C79.05,510.87 78.75,509.33 78.60,507.90 C78.45,506.47 78.08,505.02 77.90,503.60 C77.72,502.18 77.63,500.80 77.50,499.40 C77.37,498.00 77.25,496.65 77.10,495.20 C76.95,493.75 76.73,492.10 76.60,490.70 C76.47,489.30 76.40,488.20 76.30,486.80 C76.20,485.40 76.07,483.70 76.00,482.30 C75.93,480.90 75.95,479.70 75.90,478.40 C75.85,477.10 75.78,475.80 75.70,474.50 C75.62,473.20 75.50,473.85 75.40,470.60 C75.30,467.35 75.18,460.10 75.10,455.00 C75.02,449.90 74.95,445.00 74.90,440.00 C74.85,435.00 74.82,429.25 74.80,425.00 C74.78,420.75 74.80,416.85 74.80,414.50 C74.80,412.15 74.80,412.20 74.80,410.90 C74.80,409.60 74.77,408.10 74.80,406.70 C74.83,405.30 74.88,403.83 75.00,402.50 C75.12,401.17 75.25,399.92 75.50,398.70 C75.75,397.48 76.05,395.82 76.50,395.20 C76.95,394.58 77.65,394.82 78.20,395.00 C78.75,395.18 79.28,395.60 79.80,396.30 C80.32,397.00 80.80,398.13 81.30,399.20 C81.80,400.27 82.30,401.53 82.80,402.70 C83.30,403.87 83.68,405.17 84.30,406.20 C84.92,407.23 85.67,408.10 86.50,408.90 C87.33,409.70 88.38,410.27 89.30,411.00 C90.22,411.73 91.17,412.45 92.00,413.30 C92.83,414.15 93.52,415.12 94.30,416.10 C95.08,417.08 95.83,418.18 96.70,419.20 C97.57,420.22 98.57,421.22 99.50,422.20 C100.43,423.18 101.37,424.15 102.30,425.10 C103.23,426.05 104.05,426.97 105.10,427.90 C106.15,428.83 107.50,429.88 108.60,430.70 C109.70,431.52 110.53,432.00 111.70,432.80 C112.87,433.60 114.37,434.70 115.60,435.50 C116.83,436.30 117.93,436.90 119.10,437.60 C120.27,438.30 121.10,438.83 122.60,439.70 C124.10,440.57 126.23,441.87 128.10,442.80 C129.97,443.73 131.90,444.50 133.80,445.30 C135.70,446.10 137.60,446.90 139.50,447.60 C141.40,448.30 143.45,448.97 145.20,449.50 C146.95,450.03 147.15,450.08 150.00,450.80 C152.85,451.52 158.18,452.82 162.30,453.80 C166.42,454.78 170.58,455.85 174.70,456.70 C178.82,457.55 182.90,458.27 187.00,458.90 C191.10,459.53 195.20,460.08 199.30,460.50 C203.40,460.92 207.48,461.13 211.60,461.40 C215.72,461.67 219.88,461.92 224.00,462.10 C228.12,462.28 231.97,462.38 236.30,462.50 C240.63,462.62 245.33,462.65 250.00,462.80 C254.67,462.95 259.53,463.15 264.30,463.40 C269.07,463.65 273.83,464.02 278.60,464.30 C283.37,464.58 288.15,464.87 292.90,465.10 C297.65,465.33 302.35,465.55 307.10,465.70 C311.85,465.85 316.63,465.90 321.40,466.00 C326.17,466.10 331.10,466.23 335.70,466.30 C340.30,466.37 346.78,466.38 349.00,466.40" fill="none" stroke="#0000ff" stroke-width="2.50" stroke-linecap="round" stroke-dasharray="0 4.10" clip-path="url(#cb)"/>
<path d="M65.50,527.00 C65.67,526.93 65.68,526.95 66.50,526.60 C67.32,526.25 69.10,525.42 70.40,524.90 C71.70,524.38 73.00,523.97 74.30,523.50 C75.60,523.03 76.88,522.58 78.20,522.10 C79.52,521.62 80.88,521.08 82.20,520.60 C83.52,520.12 84.80,519.70 86.10,519.20 C87.40,518.70 88.70,518.17 90.00,517.60 C91.30,517.03 92.63,516.42 93.90,515.80 C95.17,515.18 96.38,514.58 97.60,513.90 C98.82,513.22 99.97,512.48 101.20,511.70 C102.43,510.92 103.85,509.97 105.00,509.20 C106.15,508.43 107.02,507.83 108.10,507.10 C109.18,506.37 110.37,505.58 111.50,504.80 C112.63,504.02 113.78,503.22 114.90,502.40 C116.02,501.58 117.05,500.75 118.20,499.90 C119.35,499.05 120.63,498.15 121.80,497.30 C122.97,496.45 124.08,495.67 125.20,494.80 C126.32,493.93 127.42,493.02 128.50,492.10 C129.58,491.18 130.67,490.25 131.70,489.30 C132.73,488.35 133.82,487.35 134.70,486.40 C135.58,485.45 136.52,484.40 137.00,483.60 C137.48,482.80 137.67,482.32 137.60,481.60 C137.53,480.88 137.18,480.23 136.60,479.30 C136.02,478.37 134.98,477.10 134.10,476.00 C133.22,474.90 132.23,473.77 131.30,472.70 C130.37,471.63 129.43,470.68 128.50,469.60 C127.57,468.52 126.53,467.37 125.70,466.20 C124.87,465.03 124.25,463.82 123.50,462.60 C122.75,461.38 121.95,460.17 121.20,458.90 C120.45,457.63 119.65,456.28 119.00,455.00 C118.35,453.72 117.85,452.50 117.30,451.20 C116.75,449.90 116.20,448.52 115.70,447.20 C115.20,445.88 114.73,444.58 114.30,443.30 C113.87,442.02 113.47,440.78 113.10,439.50 C112.73,438.22 112.43,436.98 112.10,435.60 C111.77,434.22 111.40,432.62 111.10,431.20 C110.80,429.78 110.53,428.47 110.30,427.10 C110.07,425.73 109.87,424.38 109.70,423.00 C109.53,421.62 109.43,420.32 109.30,418.80 C109.17,417.28 109.00,415.42 108.90,413.90 C108.80,412.38 108.73,411.10 108.70,409.70 C108.67,408.30 108.67,406.88 108.70,405.50 C108.73,404.12 108.75,402.75 108.90,401.40 C109.05,400.05 109.28,398.70 109.60,397.40 C109.92,396.10 110.33,394.80 110.80,393.60 C111.27,392.40 111.78,391.27 112.40,390.20 C113.02,389.13 113.68,388.08 114.50,387.20 C115.32,386.32 116.32,385.60 117.30,384.90 C118.28,384.20 119.30,383.47 120.40,383.00 C121.50,382.53 122.73,382.25 123.90,382.10 C125.07,381.95 126.23,381.93 127.40,382.10 C128.57,382.27 129.85,382.68 130.90,383.10 C131.95,383.52 132.70,384.08 133.70,384.60 C134.70,385.12 135.80,385.65 136.90,386.20 C138.00,386.75 139.13,387.33 140.30,387.90 C141.47,388.47 142.73,389.05 143.90,389.60 C145.07,390.15 146.20,390.68 147.30,391.20 C148.40,391.72 149.38,392.22 150.50,392.70 C151.62,393.18 152.03,393.17 154.00,394.10 C155.97,395.03 158.85,396.60 162.30,398.30 C165.75,400.00 170.58,402.47 174.70,404.30 C178.82,406.13 182.90,407.75 187.00,409.30 C191.10,410.85 195.20,412.33 199.30,413.60 C203.40,414.87 207.48,415.97 211.60,416.90 C215.72,417.83 219.88,418.53 224.00,419.20 C228.12,419.87 232.20,420.37 236.30,420.90 C240.40,421.43 243.93,421.83 248.60,422.40 C253.27,422.97 259.30,423.68 264.30,424.30 C269.30,424.92 273.83,425.57 278.60,426.10 C283.37,426.63 288.15,427.08 292.90,427.50 C297.65,427.92 302.35,428.23 307.10,428.60 C311.85,428.97 316.63,429.37 321.40,429.70 C326.17,430.03 331.10,430.32 335.70,430.60 C340.30,430.88 346.78,431.27 349.00,431.40" fill="none" stroke="#ff8020" stroke-width="2.50" stroke-linecap="round" stroke-dasharray="0 4.10" clip-path="url(#cb)"/>
<text x="61.80" y="531.30" font-size="11.50" text-anchor="end" font-weight="normal" class="tk">0.0</text>
<text x="61.80" y="474.15" font-size="11.50" text-anchor="end" font-weight="normal" class="tk">0.1</text>
<text x="61.80" y="417.00" font-size="11.50" text-anchor="end" font-weight="normal" class="tk">0.2</text>
<text x="61.80" y="359.85" font-size="11.50" text-anchor="end" font-weight="normal" class="tk">0.3</text>
<text x="61.80" y="302.70" font-size="11.50" text-anchor="end" font-weight="normal" class="tk">0.4</text>
<text x="64.70" y="544.40" font-size="12.00" text-anchor="middle" font-weight="normal" class="tk">0</text>
<text x="121.40" y="544.40" font-size="12.00" text-anchor="middle" font-weight="normal" class="tk">2</text>
<text x="178.10" y="544.40" font-size="12.00" text-anchor="middle" font-weight="normal" class="tk">4</text>
<text x="234.80" y="544.40" font-size="12.00" text-anchor="middle" font-weight="normal" class="tk">6</text>
<text x="291.50" y="544.40" font-size="12.00" text-anchor="middle" font-weight="normal" class="tk">8</text>
<text x="348.20" y="544.40" font-size="12.00" text-anchor="middle" font-weight="normal" class="tk">10</text>
<path d="M252.7,314.00 H278.0" fill="none" stroke="#ff0000" stroke-width="2.50" stroke-linecap="round" stroke-dasharray="0 4.23"/>
<text x="285.30" y="318.40" font-size="13.00" text-anchor="start" font-weight="normal">t=0.5 mm</text>
<path d="M252.7,329.70 H278.0" fill="none" stroke="#10dc10" stroke-width="2.50" stroke-linecap="round" stroke-dasharray="0 4.23"/>
<text x="285.30" y="334.10" font-size="13.00" text-anchor="start" font-weight="normal">t=1 mm</text>
<path d="M252.7,345.30 H278.0" fill="none" stroke="#0000ff" stroke-width="2.50" stroke-linecap="round" stroke-dasharray="0 4.23"/>
<text x="285.30" y="349.70" font-size="13.00" text-anchor="start" font-weight="normal">t=1.5 mm</text>
<path d="M252.7,361.00 H278.0" fill="none" stroke="#ff8020" stroke-width="2.50" stroke-linecap="round" stroke-dasharray="0 4.23"/>
<text x="285.30" y="365.40" font-size="13.00" text-anchor="start" font-weight="normal">t=2 mm</text>
<text x="207.10" y="564.90" font-size="16.00" text-anchor="middle" font-weight="normal">Stress (MPa)</text>
<text x="0.00" y="0.00" font-size="16.00" text-anchor="middle" font-weight="normal" transform="translate(37.6,413.1) rotate(-90)">Efficiency</text>
<text x="5.00" y="303.70" font-size="23.50" text-anchor="start" font-weight="bold">b</text>
</g>
</svg>
</div>
</body></html>
